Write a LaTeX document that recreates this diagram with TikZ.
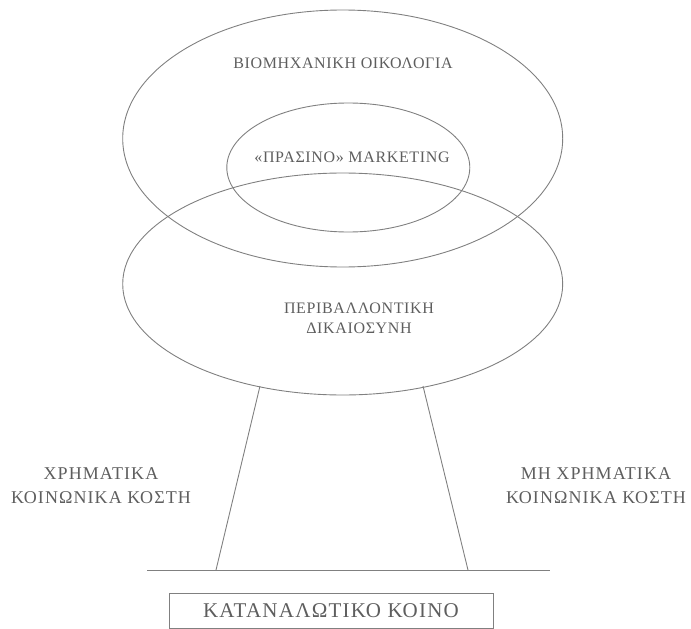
\documentclass[tikz,border=0pt]{standalone}
\usepackage{fontspec}
\setmainfont{Liberation Serif}
\usetikzlibrary{shapes.geometric}
\definecolor{linegray}{HTML}{808080}
\definecolor{textgray}{HTML}{5E5E5E}
\begin{document}
\begin{tikzpicture}[x=1pt,y=-1pt,
  oval/.style={ellipse,draw=linegray,line width=0.9pt,inner sep=0pt},
  lbl/.style={text=textgray,font=\fontsize{16}{20}\selectfont\addfontfeatures{LetterSpace=4},align=center},
  side/.style={text=textgray,font=\fontsize{18}{24}\selectfont\addfontfeatures{LetterSpace=6},align=center},
  conn/.style={draw=linegray,line width=0.9pt}]
\useasboundingbox (0,0) rectangle (691,629);
\node[oval,minimum width=440pt,minimum height=257pt] (top) at (342.7,138.5) {};
\node[oval,minimum width=243pt,minimum height=129pt] (inner) at (348.3,167.5) {};
\node[oval,minimum width=440pt,minimum height=222pt] (low) at (342.7,284) {};
\node[lbl] (bio) at (343,63.5) {ΒΙΟΜΗΧΑΝΙΚΗ ΟΙΚΟΛΟΓΙΑ};
\node[lbl] (mkt) at (352,157.5) {«ΠΡΑΣΙΝΟ» MARKETING};
\node[lbl] (per) at (359,318.5) {ΠΕΡΙΒΑΛΛΟΝΤΙΚΗ\\ΔΙΚΑΙΟΣΥΝΗ};
\node[side] (xr) at (101,485.5) {ΧΡΗΜΑΤΙΚΑ\\ΚΟΙΝΩΝΙΚΑ ΚΟΣΤΗ};
\node[side] (mxr) at (596,485.5) {ΜΗ ΧΡΗΜΑΤΙΚΑ\\ΚΟΙΝΩΝΙΚΑ ΚΟΣΤΗ};
\coordinate (lt) at (260,386);
\coordinate (lb) at (216,570);
\coordinate (rt) at (423,386);
\coordinate (rb) at (468,570);
\coordinate (hl) at (147,570);
\coordinate (hr) at (550,570);
\draw[conn] (lt) -- (lb);
\draw[conn] (rt) -- (rb);
\draw[conn] (hl) -- (hr);
\node[draw=linegray,line width=0.9pt,text=textgray,font=\fontsize{21}{24}\selectfont\addfontfeatures{LetterSpace=6},minimum width=324pt,minimum height=35pt,inner sep=0pt] (kk) at (331,610.5) {ΚΑΤΑΝΑΛΩΤΙΚΟ ΚΟΙΝΟ};
\end{tikzpicture}
\end{document}
